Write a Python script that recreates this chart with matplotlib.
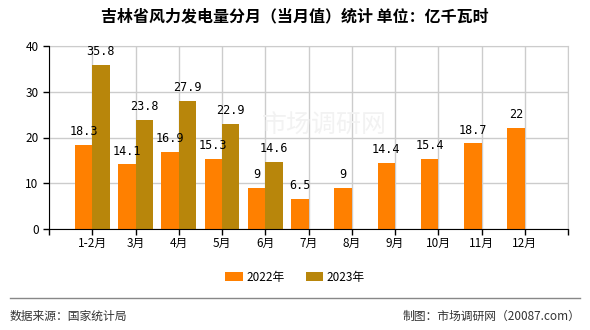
import matplotlib
matplotlib.use("Agg")
import matplotlib.pyplot as plt
import numpy as np

plt.rcParams['font.family'] = ['Noto Sans CJK SC', 'DejaVu Sans']

categories = ['1-2月', '3月', '4月', '5月', '6月', '7月', '8月', '9月', '10月', '11月', '12月']
v2022 = [18.3, 14.1, 16.9, 15.3, 9, 6.5, 9, 14.4, 15.4, 18.7, 22]
v2023 = [35.8, 23.8, 27.9, 22.9, 14.6]
series_names = ['2022年', '2023年']
title = '吉林省风力发电量分月（当月值）统计 单位：亿千瓦时'

c2022 = '#FF8000'
c2023 = '#B8860B'

fig = plt.figure(figsize=(5.9, 3.3), dpi=100)
ax = fig.add_axes([49/590, 1-229/330, (568-49)/590, (229-46)/330])

x = np.arange(1, len(categories)+1)
w = 0.4
ax.bar(x - w/2, v2022, width=w, color=c2022, zorder=3, label=series_names[0])
x23 = x[:len(v2023)]
ax.bar(x23 + w/2, v2023, width=w, color=c2023, zorder=3, label=series_names[1])

def fmt(v):
    return ('%g' % v)
for xi, v in zip(x, v2022):
    ax.text(xi - w/2, v + 1.5, fmt(v), ha='center', va='bottom', fontsize=8.5,
            family='DejaVu Sans Mono', zorder=4)
for xi, v in zip(x23, v2023):
    ax.text(xi + w/2, v + 1.5, fmt(v), ha='center', va='bottom', fontsize=8.5,
            family='DejaVu Sans Mono', zorder=4)

ax.set_xlim(0, 12)
ax.set_ylim(0, 40)
ax.set_yticks([0, 10, 20, 30, 40])
ax.set_xticks(np.arange(0, 13))
ax.set_xticklabels([''] + categories + [''])
ax.tick_params(axis='both', labelsize=8.5, length=4, width=1, color='black')
ax.tick_params(axis='x', pad=2)
ax.grid(True, color='#cccccc', linewidth=1, zorder=0)
for s in ['top', 'right']:
    ax.spines[s].set_color('#cccccc')
for s in ['left', 'bottom']:
    ax.spines[s].set_color('black')
    ax.spines[s].set_zorder(5)

# watermark
fig.text(0.55, 0.62, '市场调研网', fontsize=18, color='#f2f2f2', ha='center', va='center', zorder=0)

fig.text(0.5, 1-16/330, title, ha='center', va='center', fontsize=11.5, color='black',
         fontweight='bold')

leg = fig.legend(loc='center', bbox_to_anchor=(0.5, 1-277/330), ncol=2, frameon=False,
                 fontsize=8.5, handlelength=1.5, handleheight=0.7, columnspacing=1.8,
                 handletextpad=0.3)

fig.add_artist(plt.Line2D([10/590, 580/590], [1-298/330, 1-298/330], color='#888888', lw=1))
fig.text(10/590, 1-316/330, '数据来源：国家统计局', fontsize=8.5, color='#333333', ha='left', va='center')
fig.text(580/590, 1-316/330, '制图：市场调研网（20087.com）', fontsize=8.5, color='#333333', ha='right', va='center')

fig.savefig('out.png', dpi=100)
